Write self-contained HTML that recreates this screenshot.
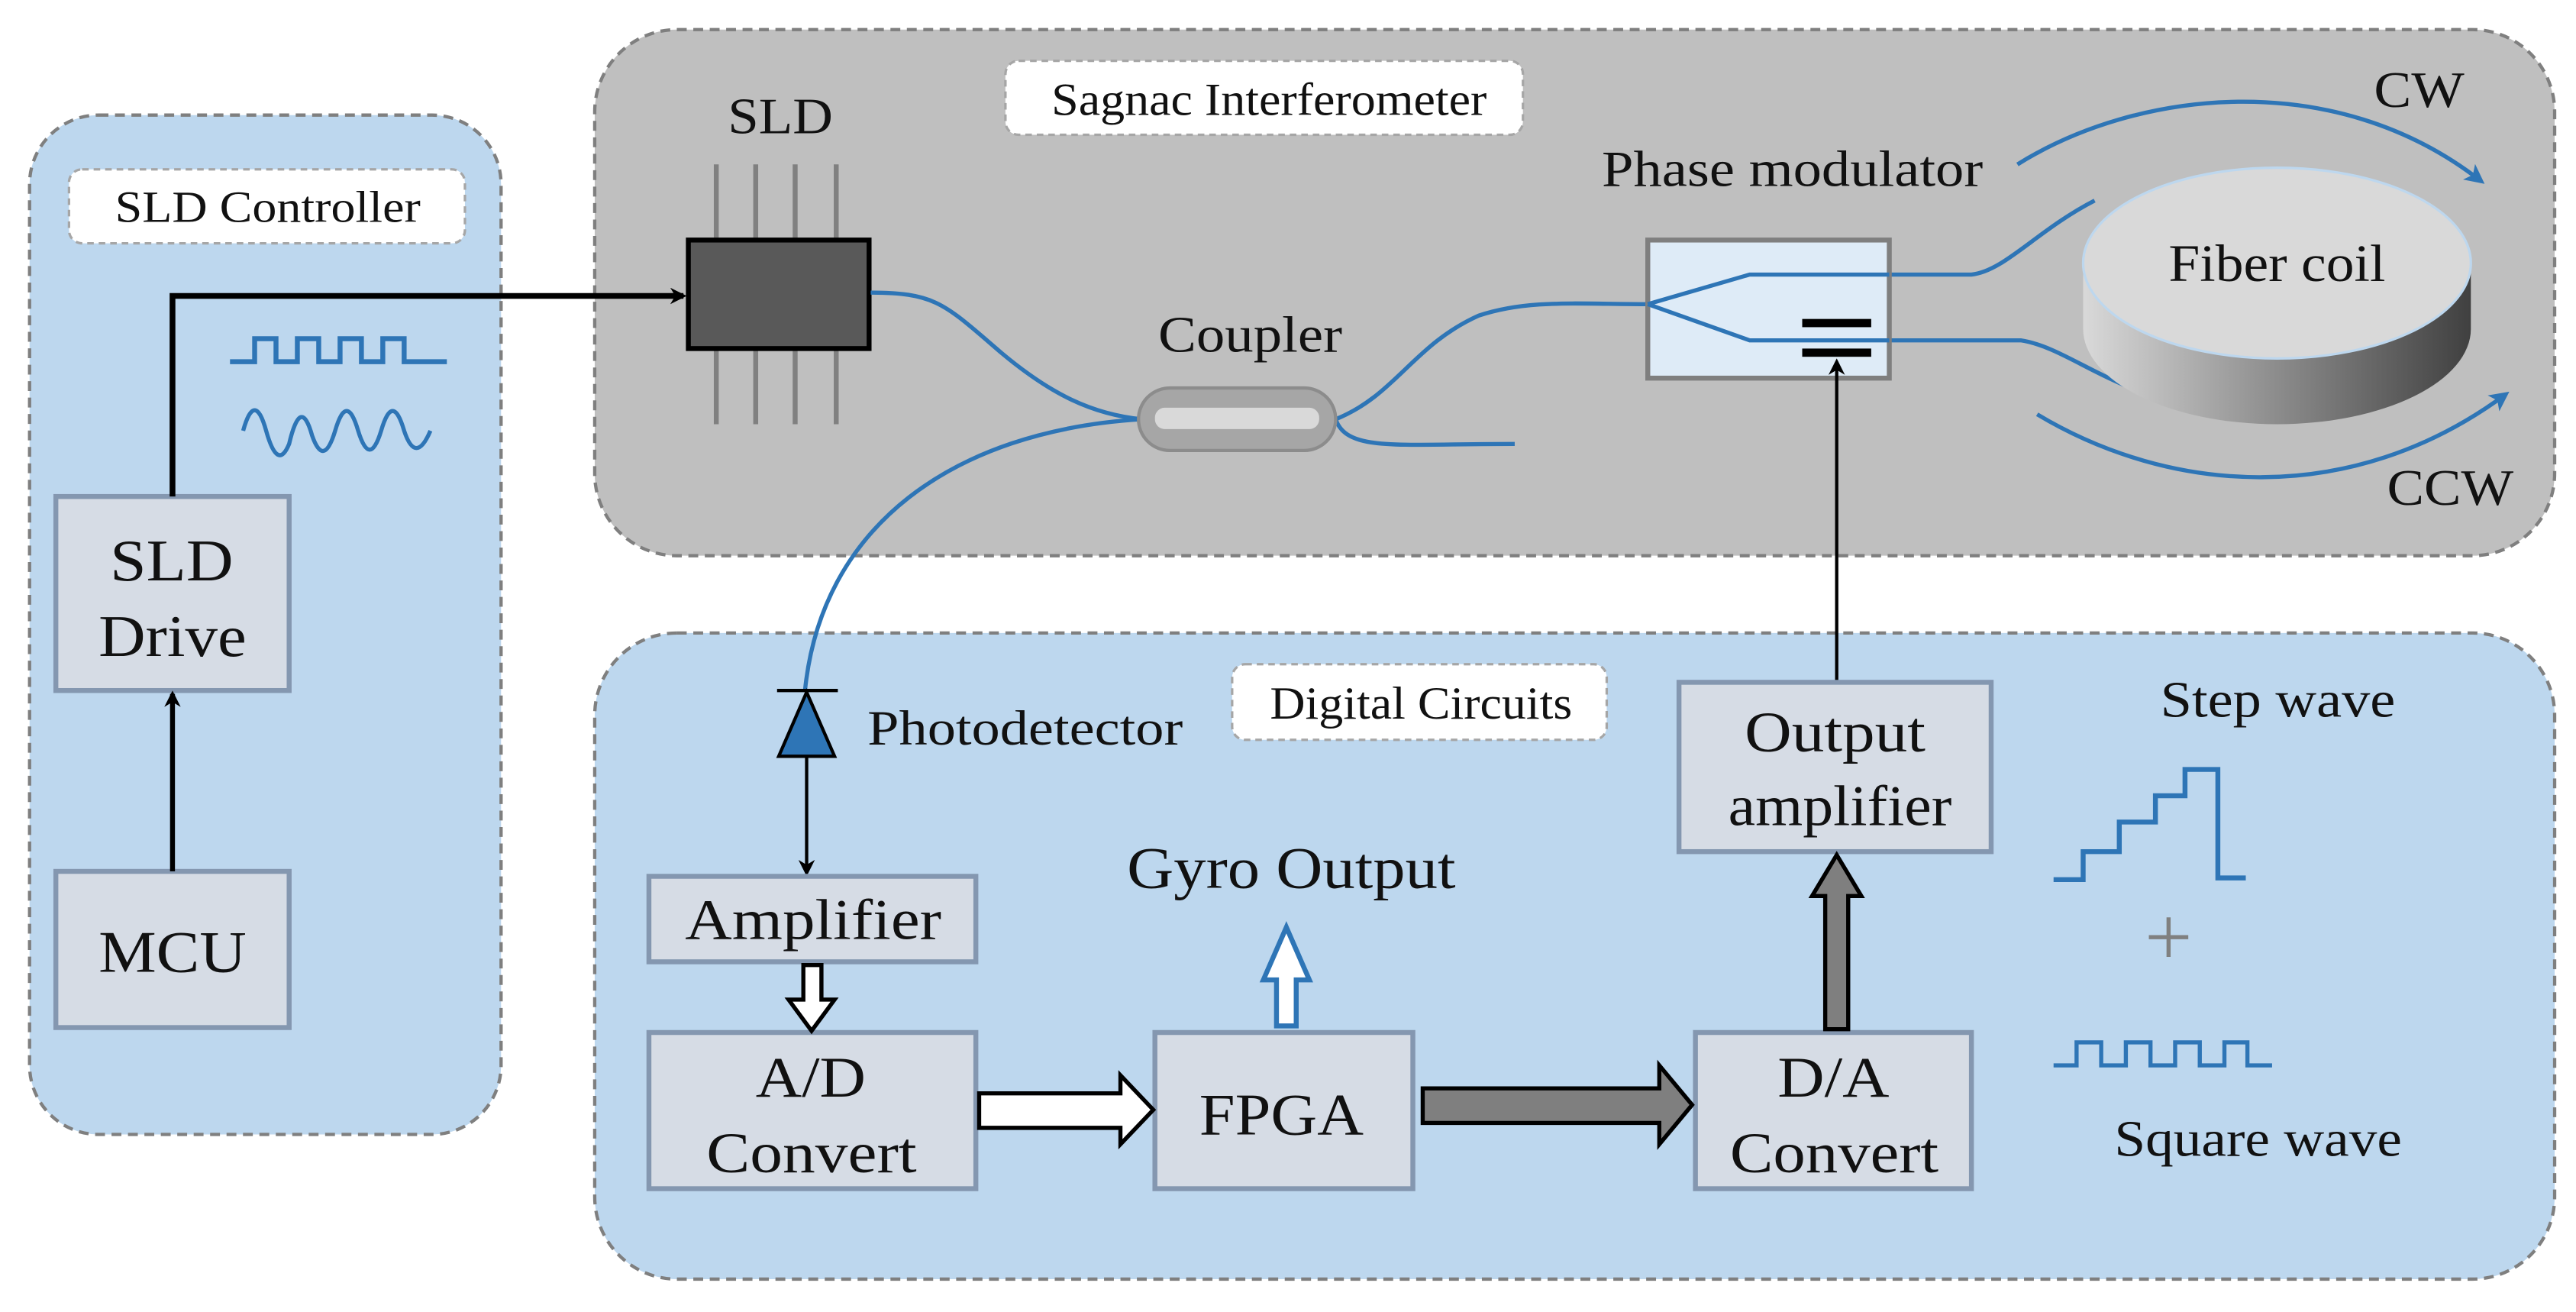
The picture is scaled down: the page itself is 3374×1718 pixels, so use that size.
<!DOCTYPE html>
<html><head><meta charset="utf-8"><style>
html,body{margin:0;padding:0;background:#fff;}
svg{display:block;}
</style></head><body>
<svg width="3374" height="1718" viewBox="0 0 1568 798" preserveAspectRatio="none" xmlns="http://www.w3.org/2000/svg" font-family="'Liberation Serif', 'DejaVu Serif', serif" fill="#111">
<defs>
<marker id="ab" markerWidth="10" markerHeight="10" refX="8" refY="5" orient="auto" markerUnits="userSpaceOnUse"><path d="M0,0 L10,5 L0,10 L3,5 Z" fill="#000"/></marker>
<marker id="abl" markerWidth="12" markerHeight="12" refX="9" refY="6" orient="auto" markerUnits="userSpaceOnUse"><path d="M0,0 L12,6 L0,12 L3,6 Z" fill="#2e75b6"/></marker>
<linearGradient id="cyl" x1="0" x2="1" y1="0" y2="0"><stop offset="0" stop-color="#d9d9d9"/><stop offset="0.5" stop-color="#8c8c8c"/><stop offset="1" stop-color="#404040"/></linearGradient>
</defs>
<!-- panels -->
<rect x="18" y="70" width="287" height="620" rx="42" fill="#bdd7ee" stroke="#7f7f7f" stroke-width="2" stroke-dasharray="6,4"/>
<rect x="362" y="18" width="1193" height="320" rx="50" fill="#bfbfbf" stroke="#7f7f7f" stroke-width="2" stroke-dasharray="6,4"/>
<rect x="362" y="385" width="1193" height="393" rx="50" fill="#bdd7ee" stroke="#7f7f7f" stroke-width="2" stroke-dasharray="6,4"/>
<!-- label boxes -->
<rect x="42" y="103" width="241" height="45" rx="8" fill="#fff" stroke="#a6a6a6" stroke-width="1.5" stroke-dasharray="4,3"/>
<text x="70" y="135" font-size="27" textLength="186" lengthAdjust="spacingAndGlyphs">SLD Controller</text>
<rect x="612" y="37" width="315" height="45" rx="8" fill="#fff" stroke="#a6a6a6" stroke-width="1.5" stroke-dasharray="4,3"/>
<text x="640" y="70" font-size="28" textLength="265" lengthAdjust="spacingAndGlyphs">Sagnac Interferometer</text>
<rect x="750" y="404" width="228" height="46" rx="8" fill="#fff" stroke="#a6a6a6" stroke-width="1.5" stroke-dasharray="4,3"/>
<text x="773" y="437" font-size="28" textLength="184" lengthAdjust="spacingAndGlyphs">Digital Circuits</text>
<!-- SLD controller -->
<rect x="34" y="302" width="142" height="118" fill="#d6dce5" stroke="#8497b0" stroke-width="3"/>
<text x="67" y="353" font-size="36" textLength="75" lengthAdjust="spacingAndGlyphs">SLD</text>
<text x="60" y="399" font-size="36" textLength="90" lengthAdjust="spacingAndGlyphs">Drive</text>
<rect x="34" y="530" width="142" height="95" fill="#d6dce5" stroke="#8497b0" stroke-width="3"/>
<text x="60" y="591" font-size="36" textLength="90" lengthAdjust="spacingAndGlyphs">MCU</text>
<line x1="105" y1="530" x2="105" y2="422" stroke="#000" stroke-width="3" marker-end="url(#ab)"/>
<polyline points="105,302 105,180 416,180" fill="none" stroke="#000" stroke-width="3.5" marker-end="url(#ab)"/>
<polyline points="140,220 155,220 155,206 168,206 168,220 181,220 181,206 194,206 194,220 207,220 207,206 220,206 220,220 233,220 233,206 246,206 246,220 272,220" fill="none" stroke="#2e75b6" stroke-width="3"/>
<path d="M148,262 Q155,237 162,262 T176,270 Q183,240 190,265 Q197,285 204,262 Q211,238 218,262 Q225,285 232,262 Q239,238 246,262 Q253,283 262,262" fill="none" stroke="#2e75b6" stroke-width="2.5"/>
<!-- SLD chip -->
<g stroke="#808080" stroke-width="3">
<line x1="436" y1="100" x2="436" y2="258"/><line x1="460" y1="100" x2="460" y2="258"/><line x1="484" y1="100" x2="484" y2="258"/><line x1="509" y1="100" x2="509" y2="258"/>
</g>
<rect x="419" y="146" width="110" height="66" fill="#595959" stroke="#000" stroke-width="3"/>
<text x="443" y="81" font-size="31" textLength="64" lengthAdjust="spacingAndGlyphs">SLD</text>
<!-- fibers -->
<g fill="none" stroke="#2e75b6" stroke-width="2.5">
<path d="M530,178 C570,178 575,185 610,215 C640,240 665,252 695,255"/>
<path d="M695,255 C580,262 500,320 490,420"/>
<path d="M813,255 C850,240 860,210 900,192 C930,182 960,185 1003,185 L1065,167 L1150,167 L1200,167 C1220,165 1240,140 1275,122"/>
<path d="M1003,185 L1065,207 L1150,207 L1230,207 C1250,210 1270,225 1295,235"/>
<path d="M813,255 C820,275 850,270 922,270"/>
</g>
<!-- coupler -->
<rect x="693" y="236" width="120" height="38" rx="19" fill="#a6a6a6" stroke="#8c8c8c" stroke-width="2"/>
<rect x="703" y="248" width="100" height="13" rx="6" fill="#d9d9d9"/>
<text x="705" y="214" font-size="31" textLength="112" lengthAdjust="spacingAndGlyphs">Coupler</text>
<!-- phase modulator -->
<rect x="1003" y="146" width="147" height="84" fill="#deebf7" stroke="#7f7f7f" stroke-width="3"/>
<g fill="none" stroke="#2e75b6" stroke-width="2.5">
<path d="M1003,185 L1065,167 L1150,167"/><path d="M1003,185 L1065,207 L1150,207"/>
</g>
<rect x="1097" y="194" width="42" height="5" fill="#000"/>
<rect x="1097" y="212" width="42" height="5" fill="#000"/>
<text x="975" y="113" font-size="31" textLength="232" lengthAdjust="spacingAndGlyphs">Phase modulator</text>
<!-- fiber coil -->
<path d="M1268,160 L1268,200 A118,58 0 0 0 1504,200 L1504,160 Z" fill="url(#cyl)"/>
<ellipse cx="1386" cy="160" rx="118" ry="58" fill="#d9d9d9" stroke="#bdd7ee" stroke-width="1.5"/>
<text x="1320" y="171" font-size="32" textLength="132" lengthAdjust="spacingAndGlyphs">Fiber coil</text>
<!-- CW / CCW -->
<path d="M1228,100 C1300,55 1420,40 1510,110" fill="none" stroke="#2e75b6" stroke-width="2.5" marker-end="url(#abl)"/>
<path d="M1240,252 C1320,300 1430,310 1525,240" fill="none" stroke="#2e75b6" stroke-width="2.5" marker-end="url(#abl)"/>
<text x="1445" y="65" font-size="31" textLength="55" lengthAdjust="spacingAndGlyphs">CW</text>
<text x="1453" y="307" font-size="31" textLength="77" lengthAdjust="spacingAndGlyphs">CCW</text>
<!-- PM feed -->
<line x1="1118" y1="415" x2="1118" y2="220" stroke="#000" stroke-width="2" marker-end="url(#ab)"/>
<!-- photodetector -->
<line x1="473" y1="420" x2="510" y2="420" stroke="#000" stroke-width="2"/>
<path d="M491,421 L474,460 L508,460 Z" fill="#2e75b6" stroke="#000" stroke-width="2"/>
<line x1="491" y1="460" x2="491" y2="531" stroke="#000" stroke-width="2" marker-end="url(#ab)"/>
<text x="528" y="453" font-size="30" textLength="192" lengthAdjust="spacingAndGlyphs">Photodetector</text>
<!-- boxes -->
<rect x="395" y="533" width="199" height="52" fill="#d6dce5" stroke="#8497b0" stroke-width="3"/>
<text x="417" y="571" font-size="35" textLength="156" lengthAdjust="spacingAndGlyphs">Amplifier</text>
<rect x="395" y="628" width="199" height="95" fill="#d6dce5" stroke="#8497b0" stroke-width="3"/>
<text x="460" y="667" font-size="35" textLength="67" lengthAdjust="spacingAndGlyphs">A/D</text>
<text x="430" y="713" font-size="35" textLength="128" lengthAdjust="spacingAndGlyphs">Convert</text>
<rect x="703" y="628" width="157" height="95" fill="#d6dce5" stroke="#8497b0" stroke-width="3"/>
<text x="730" y="690" font-size="36" textLength="100" lengthAdjust="spacingAndGlyphs">FPGA</text>
<rect x="1032" y="628" width="168" height="95" fill="#d6dce5" stroke="#8497b0" stroke-width="3"/>
<text x="1082" y="667" font-size="35" textLength="68" lengthAdjust="spacingAndGlyphs">D/A</text>
<text x="1053" y="713" font-size="35" textLength="127" lengthAdjust="spacingAndGlyphs">Convert</text>
<rect x="1022" y="415" width="190" height="103" fill="#d6dce5" stroke="#8497b0" stroke-width="3"/>
<text x="1062" y="457" font-size="35" textLength="110" lengthAdjust="spacingAndGlyphs">Output</text>
<text x="1052" y="502" font-size="35" textLength="136" lengthAdjust="spacingAndGlyphs">amplifier</text>
<text x="686" y="540" font-size="36" textLength="200" lengthAdjust="spacingAndGlyphs">Gyro Output</text>
<!-- block arrows -->
<path d="M489,587 L500,587 L500,608 L508,608 L494,627 L480,608 L489,608 Z" fill="#fff" stroke="#000" stroke-width="2.5"/>
<path d="M596,665 L682,665 L682,654 L702,675 L682,696 L682,686 L596,686 Z" fill="#fff" stroke="#000" stroke-width="2.5"/>
<path d="M777,624 L789,624 L789,596 L797,596 L783,564 L769,596 L777,596 Z" fill="#fff" stroke="#2e75b6" stroke-width="3"/>
<path d="M866,662 L1010,662 L1010,648 L1030,672 L1010,696 L1010,683 L866,683 Z" fill="#7f7f7f" stroke="#000" stroke-width="2.5"/>
<path d="M1111,626 L1125,626 L1125,545 L1133,545 L1118,520 L1103,545 L1111,545 Z" fill="#7f7f7f" stroke="#000" stroke-width="2.5"/>
<!-- step / square waves -->
<polyline points="1250,535 1268,535 1268,518 1290,518 1290,500 1312,500 1312,484 1330,484 1330,468 1350,468 1350,534 1367,534" fill="none" stroke="#2e75b6" stroke-width="3"/>
<text x="1315" y="436" font-size="31" textLength="143" lengthAdjust="spacingAndGlyphs">Step wave</text>
<g stroke="#808080" stroke-width="2.5"><line x1="1308" y1="570" x2="1332" y2="570"/><line x1="1320" y1="558" x2="1320" y2="582"/></g>
<polyline points="1250,648 1264,648 1264,634 1279,634 1279,648 1294,648 1294,634 1309,634 1309,648 1324,648 1324,634 1339,634 1339,648 1354,648 1354,634 1368,634 1368,648 1383,648" fill="none" stroke="#2e75b6" stroke-width="2.5"/>
<text x="1287" y="703" font-size="31" textLength="175" lengthAdjust="spacingAndGlyphs">Square wave</text>
</svg>
</body></html>
